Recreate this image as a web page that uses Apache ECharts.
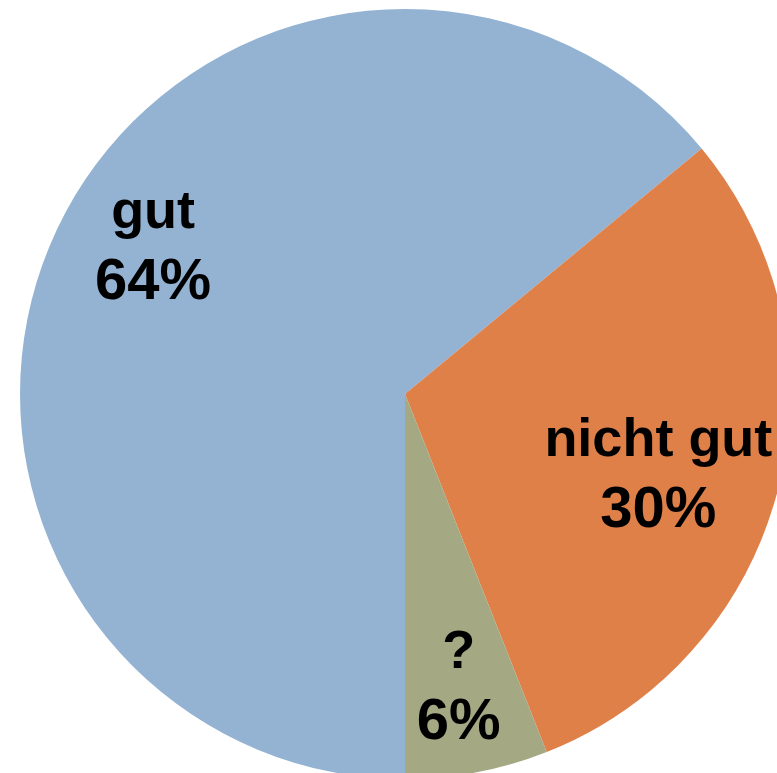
<!DOCTYPE html>
<html>
<head>
<meta charset="utf-8">
<script src="https://cdn.jsdelivr.net/npm/echarts@6/dist/echarts.min.js"></script>
<style>
html,body{margin:0;padding:0;background:#fff;}
#c{width:777px;height:773px;}
</style>
</head>
<body>
<div id="c"></div>
<script>
const categories = ['gut', 'nicht gut', '?'];
const values = [64, 30, 6];
const colors = ['#94B3D3', '#DF8049', '#A4A983'];
const labelOffsets = [[-75, -63], [64, 33], [17, 102]];

const chart = echarts.init(document.getElementById('c'), null, {renderer: 'canvas'});
chart.setOption({
  animation: false,
  backgroundColor: '#ffffff',
  series: [{
    type: 'pie',
    center: [405, 394],
    radius: 385,
    startAngle: 270,
    clockwise: true,
    silent: true,
    labelLine: {show: false},
    label: {
      show: true,
      position: 'inside',
      formatter: '{n|{b}}\n{p|{d}%}',
      color: '#000',
      fontFamily: 'Liberation Sans',
      fontWeight: 'bold',
      align: 'center',
      rich: {
        n: {fontFamily: 'Liberation Sans', fontWeight: 'bold', fontSize: 54, lineHeight: 70, color: '#000'},
        p: {fontFamily: 'Liberation Sans', fontWeight: 'bold', fontSize: 58, lineHeight: 70, color: '#000'}
      }
    },
    itemStyle: {borderWidth: 0},
    data: categories.map((c, i) => ({
      name: c,
      value: values[i],
      itemStyle: {color: colors[i]},
      label: {offset: labelOffsets[i]}
    }))
  }]
});
</script>
</body>
</html>
